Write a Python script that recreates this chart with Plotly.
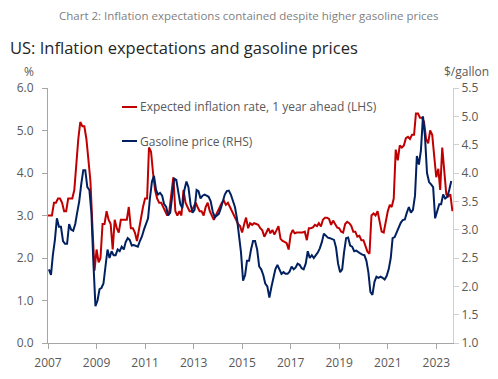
import pandas as pd
import plotly.graph_objects as go

# Expected inflation rate, 1 year ahead (%, LHS), monthly from Jan 2007
expected_inflation = [
    3.0, 3.0, 3.0, 3.3, 3.3, 3.4, 3.4, 3.3, 3.1, 3.1, 3.4, 3.4,      # 2007
    3.4, 3.6, 4.3, 4.8, 5.2, 5.1, 5.1, 4.8, 4.3, 3.8, 2.7, 1.7,      # 2008
    2.2, 1.9, 2.0, 2.8, 2.8, 3.1, 2.9, 2.8, 2.2, 2.9, 2.7, 2.6,      # 2009
    2.9, 2.9, 2.9, 2.9, 3.2, 2.7, 2.7, 2.6, 2.4, 2.7, 3.0, 3.2,      # 2010
    3.4, 3.4, 4.6, 4.5, 4.0, 3.6, 3.4, 3.3, 3.3, 3.2, 3.1, 3.0,      # 2011
    3.1, 3.5, 3.9, 3.1, 3.0, 3.1, 3.0, 3.6, 3.3, 3.2, 3.1, 3.1,      # 2012
    3.2, 3.3, 3.2, 3.1, 3.1, 3.0, 3.2, 3.3, 3.1, 3.0, 2.9, 3.0,      # 2013
    3.1, 3.2, 3.3, 3.35, 3.25, 3.3, 3.2, 3.1, 3.0, 2.9, 2.8, 2.75,   # 2014
    2.6, 2.8, 2.95, 2.7, 2.82, 2.78, 2.82, 2.8, 2.78, 2.7, 2.65, 2.5,  # 2015
    2.62, 2.7, 2.58, 2.66, 2.55, 2.66, 2.75, 2.45, 2.4, 2.38, 2.35, 2.2,  # 2016
    2.55, 2.66, 2.58, 2.6, 2.6, 2.6, 2.6, 2.62, 2.42, 2.7, 2.7, 2.72,  # 2017
    2.78, 2.75, 2.82, 2.74, 2.9, 2.95, 2.95, 2.92, 2.78, 2.88, 2.78, 2.72,  # 2018
    2.7, 2.62, 2.6, 2.8, 2.85, 2.82, 2.76, 2.62, 2.62, 2.5, 2.52, 2.42,  # 2019
    2.42, 2.3, 2.15, 2.1, 3.0, 3.05, 3.0, 3.1, 2.85, 2.62, 2.6, 2.9,  # 2020
    3.1, 3.25, 3.2, 3.4, 4.55, 4.3, 4.65, 4.6, 4.65, 4.82, 4.85, 4.8,  # 2021
    4.9, 4.9, 5.4, 5.4, 5.3, 5.3, 5.2, 4.8, 4.7, 5.0, 4.9, 4.4,      # 2022
    3.9, 4.1, 3.6, 4.6, 4.0, 3.5, 3.45, 3.5, 3.1,                    # 2023
]

# Gasoline price ($/gallon, RHS), monthly from Jan 2007
gasoline_price = [
    2.3, 2.2, 2.55, 2.82, 3.2, 3.05, 3.05, 2.8, 2.75, 2.75, 3.1, 3.0,      # 2007
    2.98, 3.1, 3.3, 3.5, 3.8, 4.05, 4.05, 3.75, 3.7, 3.3, 2.4, 1.65,      # 2008
    1.75, 1.95, 1.97, 2.05, 2.35, 2.65, 2.5, 2.62, 2.55, 2.55, 2.65, 2.62,  # 2009
    2.7, 2.65, 2.78, 2.85, 2.82, 2.72, 2.73, 2.72, 2.7, 2.8, 2.88, 3.0,   # 2010
    3.1, 3.2, 3.55, 3.85, 3.95, 3.7, 3.62, 3.65, 3.6, 3.45, 3.4, 3.25,    # 2011
    3.3, 3.6, 3.9, 3.88, 3.65, 3.45, 3.38, 3.7, 3.85, 3.75, 3.45, 3.3,    # 2012
    3.35, 3.7, 3.68, 3.55, 3.6, 3.62, 3.6, 3.58, 3.5, 3.32, 3.22, 3.25,   # 2013
    3.28, 3.38, 3.52, 3.62, 3.68, 3.69, 3.62, 3.5, 3.4, 3.2, 2.92, 2.6,   # 2014
    2.1, 2.2, 2.45, 2.45, 2.65, 2.8, 2.8, 2.65, 2.35, 2.3, 2.2, 2.05,     # 2015
    2.0, 1.8, 1.98, 2.15, 2.3, 2.38, 2.3, 2.22, 2.25, 2.22, 2.22, 2.26,   # 2016
    2.35, 2.3, 2.33, 2.4, 2.38, 2.32, 2.3, 2.4, 2.62, 2.5, 2.55, 2.5,     # 2017
    2.55, 2.6, 2.67, 2.78, 2.93, 2.9, 2.86, 2.85, 2.84, 2.82, 2.68, 2.4,  # 2018
    2.25, 2.3, 2.6, 2.85, 2.86, 2.72, 2.7, 2.62, 2.63, 2.6, 2.58, 2.56,   # 2019
    2.55, 2.45, 2.25, 1.9, 1.85, 2.08, 2.17, 2.15, 2.17, 2.15, 2.12, 2.18,  # 2020
    2.3, 2.5, 2.85, 2.87, 2.95, 3.06, 3.12, 3.17, 3.18, 3.3, 3.4, 3.3,    # 2021
    3.35, 3.6, 4.3, 4.15, 4.4, 5.0, 4.65, 4.0, 3.84, 3.8, 3.75, 3.2,      # 2022
    3.35, 3.45, 3.45, 3.62, 3.55, 3.58, 3.7, 3.86,                        # 2023
]

x_tick_years = [2007, 2009, 2011, 2013, 2015, 2017, 2019, 2021, 2023]
left_ticks = [0, 1, 2, 3, 4, 5, 6]
right_ticks = [1.0, 1.5, 2.0, 2.5, 3.0, 3.5, 4.0, 4.5, 5.0, 5.5]

title_text = "Chart 2: Inflation expectations contained despite higher gasoline prices"
subtitle_text = "US: Inflation expectations and gasoline prices"
infl_name = "Expected inflation rate, 1 year ahead (LHS)"
gas_name = "Gasoline price (RHS)"

RED = "#C00000"
NAVY = "#002060"
GREY_TXT = "#595959"
AXIS = "#A6A6A6"
FONT = "Open Sans, Noto Sans, sans-serif"

infl_dates = pd.date_range("2007-01-01", periods=len(expected_inflation), freq="MS")
gas_dates = pd.date_range("2007-01-01", periods=len(gasoline_price), freq="MS") + pd.Timedelta(days=14)

fig = go.Figure()
fig.add_trace(go.Scatter(x=infl_dates, y=expected_inflation, mode="lines", name=infl_name,
                         line=dict(color=RED, width=2), yaxis="y"))
fig.add_trace(go.Scatter(x=gas_dates, y=gasoline_price, mode="lines", name=gas_name,
                         line=dict(color=NAVY, width=2), yaxis="y2"))

L, R, T, B = 48, 45, 88, 36
W, H = 498, 379
pw, ph = W - L - R, H - T - B


def px(x):
    return (x - L) / pw


def py(y):
    return (H - B - y) / ph


def axis_common(standoff):
    return dict(showgrid=False, zeroline=False, showline=True, linewidth=1,
                ticks="outside", ticklen=5, tickwidth=1, ticklabelstandoff=standoff,
                automargin=False,
                tickfont=dict(family=FONT, size=12, color=GREY_TXT))


fig.update_layout(
    width=W, height=H,
    margin=dict(l=L, r=R, t=T, b=B, autoexpand=False),
    paper_bgcolor="white", plot_bgcolor="white",
    showlegend=False,
    font=dict(family=FONT, color=GREY_TXT),
    xaxis=dict(type="date", range=["2007-01-01", "2023-09-10"],
               tickvals=[pd.Timestamp(f"{y}-01-01") for y in x_tick_years],
               ticktext=[str(y) for y in x_tick_years],
               linecolor=AXIS, tickcolor=AXIS, **axis_common(4)),
    yaxis=dict(range=[0, 6], tickvals=left_ticks, tickformat=".1f",
               linecolor=AXIS, tickcolor=AXIS, **axis_common(6)),
    yaxis2=dict(range=[1, 5.5], tickvals=right_ticks, tickformat=".1f",
                overlaying="y", side="right",
                linecolor="#D0D0D0", tickcolor="#D0D0D0", **axis_common(0)),
)

annotations = [
    dict(text=title_text, x=px(249), y=py(16), xanchor="center", yanchor="middle",
         font=dict(family=FONT, size=11.5, color="#7F7F7F")),
    dict(text=subtitle_text, x=px(8), y=py(48), xanchor="left", yanchor="middle",
         font=dict(family=FONT, size=16.5, color="#262626")),
    dict(text="%", x=px(29), y=py(71), xanchor="center", yanchor="middle",
         font=dict(family=FONT, size=12, color=GREY_TXT)),
    dict(text="$/gallon", x=px(491), y=py(71), xanchor="right", yanchor="middle",
         font=dict(family=FONT, size=12, color=GREY_TXT)),
    dict(text=infl_name, x=px(138), y=py(107), xanchor="left", yanchor="middle",
         font=dict(family=FONT, size=12, color=GREY_TXT)),
    dict(text=gas_name, x=px(138), y=py(141), xanchor="left", yanchor="middle",
         font=dict(family=FONT, size=12, color=GREY_TXT)),
]
for a in annotations:
    a.update(xref="paper", yref="paper", showarrow=False)
fig.update_layout(annotations=annotations)

fig.add_shape(type="line", xref="paper", yref="paper", x0=px(122), x1=px(137),
              y0=py(107), y1=py(107), line=dict(color=RED, width=2))
fig.add_shape(type="line", xref="paper", yref="paper", x0=px(122), x1=px(137),
              y0=py(141), y1=py(141), line=dict(color=NAVY, width=2))

fig.write_html("out.html", config={"displayModeBar": False},
               post_script="document.body.style.margin='0';")
